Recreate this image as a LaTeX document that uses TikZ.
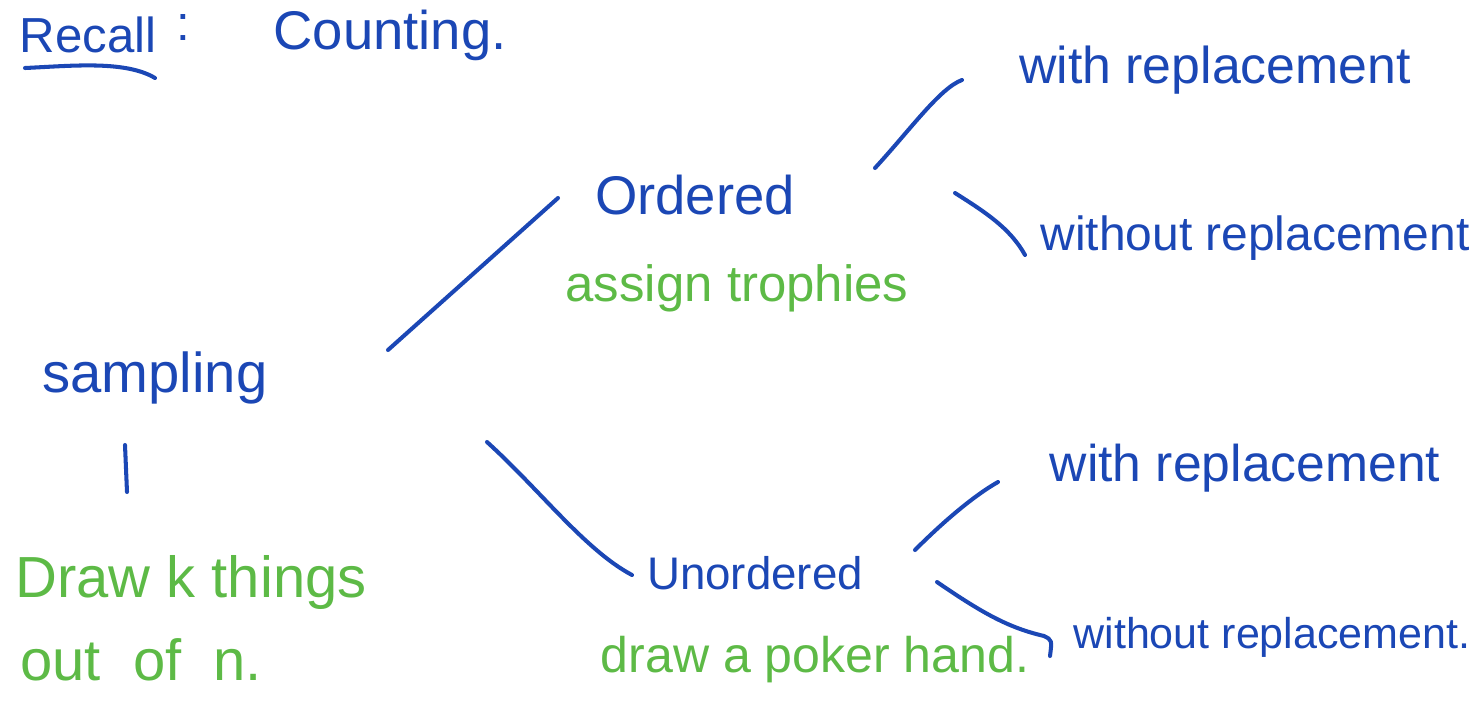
\documentclass[tikz,border=0pt]{standalone}
\usepackage{fontspec}
\setmainfont{Liberation Sans}
\definecolor{ink}{HTML}{1B47B5}
\definecolor{leaf}{HTML}{5DBA46}
\begin{document}
\begin{tikzpicture}[x=0.02cm,y=-0.02cm,
  pen/.style={draw=ink, line width=2.3pt, line cap=round, line join=round},
  bluetext/.style={text=ink, inner sep=0pt},
  greentext/.style={text=leaf, inner sep=0pt}]
\useasboundingbox (0,0) rectangle (1476,710);
% title
\node[bluetext, font=\fontsize{28}{34}\selectfont] (recall) at (88,35) {Recall};
\node[bluetext, font=\fontsize{28}{34}\selectfont] (colon) at (183,28) {:};
\node[bluetext, font=\fontsize{31}{37}\selectfont] (counting) at (390,35) {Counting.};
\coordinate (ul1) at (25,68);
\coordinate (ul2) at (155,78);
\draw[pen] (ul1) .. controls (70,66) and (125,60) .. (ul2);
% left
\node[bluetext, font=\fontsize{32}{38}\selectfont] (sampling) at (155,378) {sampling};
\coordinate (v1) at (125,445);
\coordinate (v2) at (127,492);
\draw[pen] (v1) -- (v2);
\node[greentext, font=\fontsize{33}{40}\selectfont, anchor=west] (draw) at (15,582) {Draw k things};
\node[greentext, font=\fontsize{33}{40}\selectfont, anchor=west] (outof) at (20,660) {out \ of \ n.};
% middle
\node[bluetext, font=\fontsize{31}{37}\selectfont] (ordered) at (695,195) {Ordered};
\node[greentext, font=\fontsize{29}{35}\selectfont] (trophies) at (737,288) {assign trophies};
\node[bluetext, font=\fontsize{26}{32}\selectfont] (unordered) at (755,573) {Unordered};
\node[greentext, font=\fontsize{28.5}{34}\selectfont] (poker) at (815,660) {draw a poker hand.};
% right
\node[bluetext, font=\fontsize{29.5}{35}\selectfont] (w1t) at (1215,70) {with replacement};
\node[bluetext, font=\fontsize{27.3}{33}\selectfont] (wo1t) at (1255,238) {without replacement};
\node[bluetext, font=\fontsize{29.4}{35}\selectfont] (w2t) at (1245,468) {with replacement};
\node[bluetext, font=\fontsize{24.5}{30}\selectfont] (wo2t) at (1272,637) {without replacement.};
% connectors
\coordinate (s1) at (388,350);
\coordinate (o1) at (558,198);
\draw[pen] (s1) -- (o1);
\coordinate (s2) at (487,442);
\coordinate (u1) at (632,575);
\draw[pen] (s2) .. controls (540,490) and (585,550) .. (u1);
\coordinate (o2) at (875,168);
\coordinate (w1) at (962,80);
\draw[pen] (o2) .. controls (910,130) and (940,88) .. (w1);
\coordinate (o3) at (955,193);
\coordinate (wo1) at (1025,255);
\draw[pen] (o3) .. controls (985,212) and (1010,228) .. (wo1);
\coordinate (u2) at (915,550);
\coordinate (w2) at (998,482);
\draw[pen] (u2) .. controls (945,520) and (975,495) .. (w2);
\coordinate (u3) at (937,582);
\coordinate (wo2) at (1050,656);
\draw[pen] (u3) .. controls (985,615) and (1010,628) .. (1044,636) .. controls (1052,640) .. (wo2);
\end{tikzpicture}
\end{document}
